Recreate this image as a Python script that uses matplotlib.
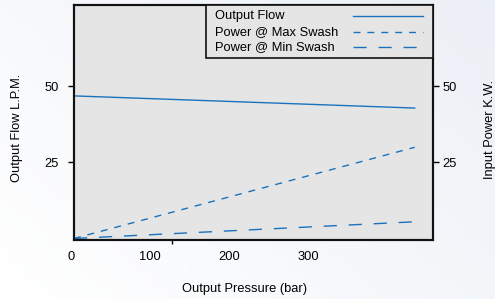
import numpy as np
import matplotlib
matplotlib.use("Agg")
import matplotlib.pyplot as plt
import matplotlib.transforms as mtransforms
from matplotlib.patches import Rectangle
from matplotlib.lines import Line2D

plt.rcParams['font.family'] = ['Liberation Sans', 'DejaVu Sans']

# data
pressure = [0, 430]          # bar
flow = [46.9, 42.9]          # L.P.M.
power_max = [0, 30]          # K.W.
power_min = [0, 5.5]         # K.W.
x_labels = [0, 100, 200, 300]
y_ticks = [25, 50]
names = ['Output Flow', 'Power @ Max Swash', 'Power @ Min Swash']

blue = '#1a72bd'
fs = 9.3
W, H = 495, 299

def fx(px):
    return px / W

def fy(py):
    return 1 - py / H

fig = plt.figure(figsize=(4.95, 2.99), dpi=100)

# soft gradient background
bg = fig.add_axes([0, 0, 1, 1], zorder=-10)
gx, gy = np.meshgrid(np.linspace(0, 1, 50), np.linspace(0, 1, 50))
g = (gx * 0.6 + (1 - gy) * 0.4)
c0 = np.array([1.0, 1.0, 1.0])
c1 = np.array([0.925, 0.94, 0.965])
img = c0[None, None, :] * (1 - g[..., None]) + c1[None, None, :] * g[..., None]
bg.imshow(img, aspect='auto', extent=[0, 1, 0, 1], origin='upper')
bg.axis('off')

ax = fig.add_axes([fx(74), fy(240), 359/W, 235/H])
ax.set_facecolor('#e5e5e5')

styles = [dict(), dict(dashes=(5, 5)), dict(dashes=(9.5, 8.5))]
for vals, st in zip([flow, power_max, power_min], styles):
    ax.plot(pressure, vals, color=blue, lw=1.0, **st)

ax.set_xlim(0, 453)
ax.set_ylim(-0.5, 76.8)

ax.set_xticks(x_labels)
ax.set_xticklabels([str(v) for v in x_labels], fontsize=fs)
ax.tick_params(axis='x', which='major', length=0, pad=8)
ax.set_xticks([0, 124], minor=True)
ax.tick_params(axis='x', which='minor', length=3, width=1, direction='out')
off = mtransforms.ScaledTranslation(-3/100, 0, fig.dpi_scale_trans)
for lab in ax.get_xticklabels():
    lab.set_transform(lab.get_transform() + off)

ax.set_yticks(y_ticks)
ax.set_yticklabels([str(v) for v in y_ticks], fontsize=fs)
ax.tick_params(axis='y', length=4, width=1, pad=7)

ax2 = ax.twinx()
ax2.set_ylim(-0.5, 76.8)
ax2.set_yticks(y_ticks)
ax2.set_yticklabels([str(v) for v in y_ticks], fontsize=fs)
ax2.tick_params(axis='y', length=4, width=1, pad=3)

for a in (ax, ax2):
    for s in a.spines.values():
        s.set_linewidth(1.5)
        s.set_color('#111111')

# legend box: text on the left, line samples on the right
fig.add_artist(Rectangle((fx(206), fy(58)), fx(433) - fx(206), fy(5) - fy(58),
                         transform=fig.transFigure, facecolor='#e5e5e5',
                         edgecolor='#111111', lw=1.2, zorder=5))
rows = [15.7, 31.7, 46.7]
for name, st, ry in zip(names, styles, rows):
    fig.text(fx(215), fy(ry), name, fontsize=fs, ha='left', va='center', zorder=6)
    fig.add_artist(Line2D([fx(353), fx(423)], [fy(ry), fy(ry)], color=blue,
                          lw=1.0, transform=fig.transFigure, zorder=6, **st))

fig.text(fx(245), fy(289), 'Output Pressure (bar)', fontsize=fs,
         ha='center', va='center')
fig.text(fx(17.5), fy(127.5), 'Output Flow L.P.M.', fontsize=fs,
         ha='center', va='center', rotation=90)
fig.text(fx(490), fy(129), 'Input Power K.W.', fontsize=fs,
         ha='center', va='center', rotation=90)

fig.savefig('out.png', dpi=100)
